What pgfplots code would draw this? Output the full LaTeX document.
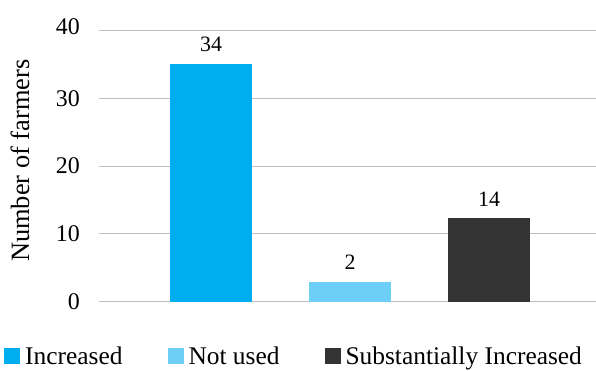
\documentclass[border=0pt]{standalone}
\usepackage{fontspec}
\setmainfont{Liberation Serif}
\usepackage{pgfplots}
\pgfplotsset{compat=1.18}
\definecolor{cBlue}{HTML}{00AEEF}
\definecolor{cLight}{HTML}{6DCFF6}
\definecolor{cDark}{HTML}{333333}
\definecolor{cGrid}{HTML}{BFBFBF}
\begin{document}
\begin{tikzpicture}
\begin{axis}[
  scale only axis,
  width=497bp, height=270.8bp,
  ymin=0, ymax=40,
  xmin=-0.8058, xmax=2.7698,
  ybar, bar width=82bp, bar shift=0pt,
  axis line style={draw=none},
  xtick=\empty,
  ytick={0,10,20,30,40},
  yticklabels={\raisebox{-7.5bp}{0},10,20,30,\raisebox{8bp}{40}},
  major tick length=0pt,
  ymajorgrids,
  grid style={cGrid, line width=1.2pt},
  /pgf/number format/assume math mode=true,
  yticklabel style={font=\fontsize{24}{28}\selectfont, inner xsep=0pt, xshift=-19bp},
  ylabel={Number of farmers},
  ylabel style={font=\fontsize{26.5}{30}\selectfont, at={(rel axis cs:-0.159,0.52)}, anchor=center},
  nodes near coords,
  point meta=explicit symbolic,
  every node near coord/.append style={font=\fontsize{22}{26}\selectfont, inner sep=0pt, anchor=south, yshift=12bp, color=black},
  legend columns=3,
  legend image code/.code={\fill[#1] (0bp,-8bp) rectangle (16bp,8bp);},
  legend style={draw=none, fill=none, at={(rel axis cs:-0.1911,-0.202)}, anchor=west, inner sep=0pt,
    font=\fontsize{25.5}{29}\selectfont,
    /tikz/every odd column/.append style={column sep=5bp},
    /tikz/every even column/.append style={column sep=45bp},
    nodes={inner xsep=0pt, inner ysep=2pt}},
  legend cell align=left,
  clip=false,
]
\addplot[fill=cBlue, draw=none] coordinates {(0,35.1) [34]};
\addlegendentry{Increased}
\addplot[fill=cLight, draw=none] coordinates {(1,2.9) [2]};
\addlegendentry{Not used}
\addplot[fill=cDark, draw=none] coordinates {(2,12.3) [14]};
\addlegendentry{Substantially Increased}
\coordinate (sw) at (rel axis cs:0,0);
\coordinate (ne) at (rel axis cs:1,1);
\end{axis}
\pgfresetboundingbox
\path ([xshift=-99bp,yshift=-69.5bp]sw) rectangle ([yshift=30.7bp]ne);
\end{tikzpicture}
\end{document}
